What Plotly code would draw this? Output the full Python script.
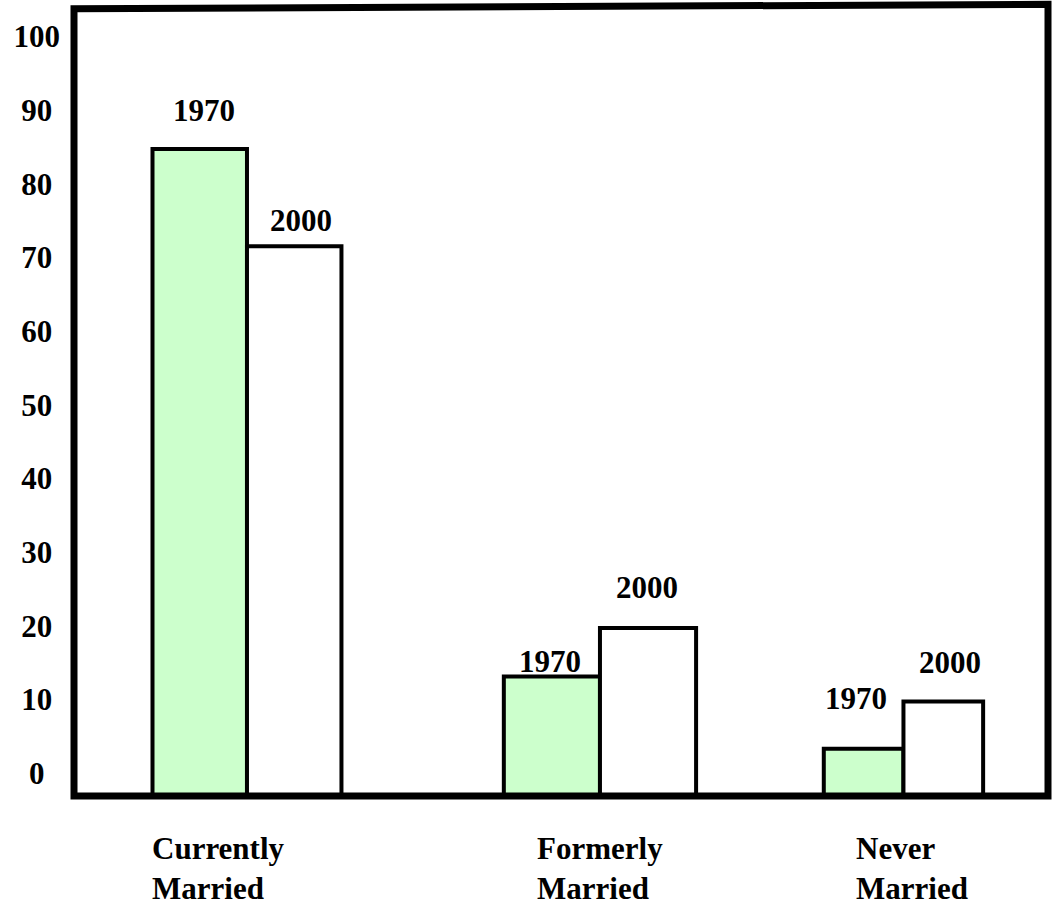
import plotly.graph_objects as go

# Marital status shares (percent), 1970 vs 2000
categories = ["Currently<br>Married", "Formerly<br>Married", "Never<br>Married"]
values_1970 = [84.7, 13.1, 3.3]
values_2000 = [71.5, 19.7, 9.7]
series_names = ["1970", "2000"]
y_ticks = [0, 10, 20, 30, 40, 50, 60, 70, 80, 90, 100]

# Layout of the bar groups on a 0-10 horizontal scale
group_centers = [1.776, 5.400, 8.516]
bar_widths = [0.970, 0.987, 0.818]
label_left = [0.784, 4.728, 8.011]       # left edge of each category caption
Y_MIN, Y_MAX = -3.122, 103.71
FRAME_TOP = (1.0004, 1.0059)             # top edge of the frame runs slightly uphill

# pixel nudges (dx, dy) for the year captions above each bar
offsets_1970 = [(4, 39), (-2, 15), (-8, 50)]
offsets_2000 = [(7, 26), (-1, 40), (7, 39)]

FONT = "Liberation Serif, Times New Roman, serif"
GREEN = "#CCFFCC"

x_1970 = [c - w / 2 for c, w in zip(group_centers, bar_widths)]
x_2000 = [c + w / 2 for c, w in zip(group_centers, bar_widths)]

fig = go.Figure()
for name, xs, vals, fill in [
    (series_names[0], x_1970, values_1970, GREEN),
    (series_names[1], x_2000, values_2000, "white"),
]:
    # bars rise from the bottom of the frame up to each value
    fig.add_trace(go.Bar(
        name=name,
        x=xs,
        y=[v - Y_MIN for v in vals],
        base=Y_MIN,
        width=bar_widths,
        marker=dict(color=fill, line=dict(color="black", width=4)),
        showlegend=False,
        hoverinfo="skip",
    ))

annotations = []
for xs, vals, offs, name in [
    (x_1970, values_1970, offsets_1970, series_names[0]),
    (x_2000, values_2000, offsets_2000, series_names[1]),
]:
    for x, v, (dx, dy) in zip(xs, vals, offs):
        annotations.append(dict(
            x=x, y=v, xref="x", yref="y", text=name, showarrow=False,
            xanchor="center", yanchor="middle", xshift=dx, yshift=dy,
            font=dict(family=FONT, size=31, color="black", weight="bold"),
        ))

for lx, cat in zip(label_left, categories):
    annotations.append(dict(
        x=lx, y=-0.0925, xref="x", yref="paper", text=cat, showarrow=False,
        xanchor="left", yanchor="middle", align="left",
        font=dict(family=FONT, size=31, color="black", weight="bold"),
    ))

# centre the tick numbers under each other by padding with non-breaking spaces
tick_text = [str(t) + "\u00a0" * (3 - len(str(t))) for t in y_ticks]

# heavy black frame around the plotting area
frame = dict(
    type="path", xref="paper", yref="paper", layer="above",
    path=f"M 0,0 L 1,0 L 1,{FRAME_TOP[1]} L 0,{FRAME_TOP[0]} Z",
    line=dict(color="black", width=7),
)

fig.update_layout(
    width=1053, height=905,
    margin=dict(l=74, r=5, t=9, b=109),
    paper_bgcolor="white", plot_bgcolor="white",
    barmode="overlay",
    annotations=annotations,
    shapes=[frame],
    xaxis=dict(
        range=[0, 10], showgrid=False, zeroline=False, showticklabels=False,
        ticks="", showline=False, fixedrange=True,
    ),
    yaxis=dict(
        range=[Y_MIN, Y_MAX], tickvals=y_ticks, ticktext=tick_text,
        showgrid=False, zeroline=False, ticks="", showline=False,
        tickfont=dict(family=FONT, size=31, color="black", weight="bold"),
        ticklabelstandoff=13, fixedrange=True,
    ),
)

fig.write_html("out.html")
